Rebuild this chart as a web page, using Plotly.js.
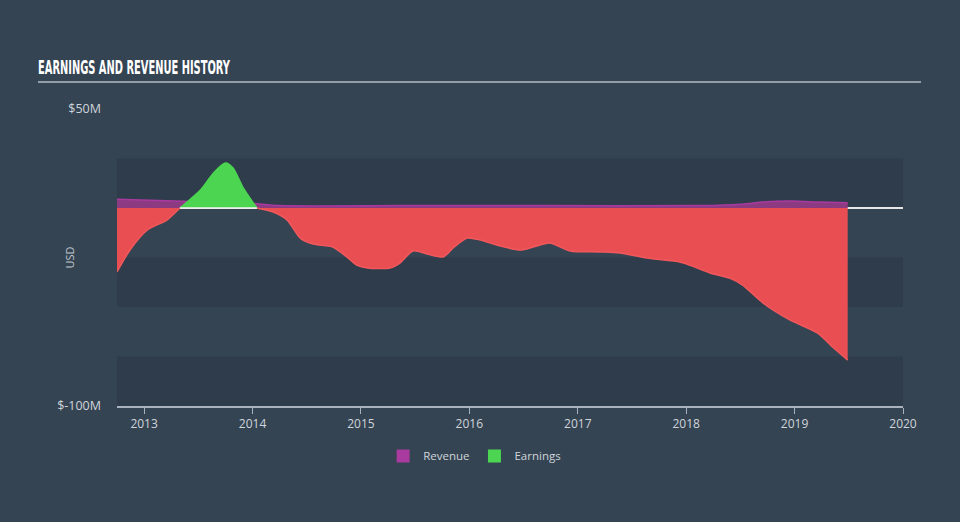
<!DOCTYPE html>
<html><head><meta charset="utf-8">
<script src="https://cdn.plot.ly/plotly-3.0.1.min.js"></script>
<style>html,body{margin:0;padding:0;background:#344453;}#chart{width:960px;height:522px;}</style>
</head><body><div id="chart"></div>
<script>
// Earnings (USD millions) by decimal year
const earnYears = [2012.75,2012.87,2013.03,2013.21,2013.33,2013.52,2013.64,2013.75,2013.82,2013.91,2014.04,2014.19,2014.32,2014.44,2014.56,2014.74,2014.87,2014.96,2015.06,2015.27,2015.36,2015.48,2015.61,2015.76,2015.85,2015.98,2016.10,2016.25,2016.47,2016.59,2016.74,2016.93,2017.20,2017.39,2017.64,2017.94,2018.03,2018.22,2018.40,2018.52,2018.71,2018.96,2019.21,2019.35,2019.49];
const earnValues = [-32.3,-21.2,-11.1,-6.1,0,9.1,17.7,22.7,20.2,10.6,0,-2.0,-6.1,-15.2,-18.2,-19.7,-24.7,-28.8,-30.3,-30.3,-27.8,-21.7,-23.2,-24.7,-20.2,-15.2,-16.2,-18.7,-21.2,-19.7,-17.7,-21.7,-22.2,-22.7,-25.3,-27.3,-28.8,-32.8,-35.4,-38.9,-48.0,-56.6,-63.1,-70.2,-76.8];
// Revenue (USD millions)
const revYears = [2012.75,2013.21,2013.67,2013.98,2014.25,2015.36,2016.74,2018.13,2018.50,2018.74,2018.98,2019.23,2019.49];
const revValues = [4.4,3.7,2.8,2.4,1.2,1.2,1.2,1.2,1.9,3.2,3.5,3.0,2.7];
const xTicks = [2013,2014,2015,2016,2017,2018,2019,2020];
const yTickVals = [50,-100];
const yTickText = ['$50M','$-100M'];

const negVals = earnValues.map(v => v <= 0 ? v : null);
const posVals = earnValues.map(v => v >= 0 ? v : null);
const zeroIdx = earnValues.map((v,i) => v === 0 ? i : -1).filter(i => i >= 0);

const traces = [
  {x: revYears, y: revValues, type:'scatter', mode:'lines', name:'Revenue', showlegend:false, fill:'tozeroy',
   fillcolor:'#8c3a82', line:{color:'#a93a9f', width:1.5, shape:'spline', smoothing:0.8}},
  {x: earnYears, y: negVals, type:'scatter', mode:'lines', name:'Earnings neg', showlegend:false, fill:'tozeroy',
   fillcolor:'#e94f52', line:{color:'#f2585b', width:1.5, shape:'spline', smoothing:0.7}, connectgaps:false},
  {x: earnYears, y: posVals, type:'scatter', mode:'lines', name:'Earnings', showlegend:false, fill:'tozeroy',
   fillcolor:'#4cd551', line:{color:'#4cd551', width:1.5, shape:'spline', smoothing:0.7}, connectgaps:false},
  {x:[null], y:[null], type:'scatter', mode:'markers', name:'Revenue', marker:{symbol:'square', size:13, color:'#a93a9f'}},
  {x:[null], y:[null], type:'scatter', mode:'markers', name:'Earnings', marker:{symbol:'square', size:13, color:'#4cd551'}}
];

const bandColor = '#2e3c4b';
const shapes = [
  {type:'rect', xref:'paper', x0:0, x1:1, yref:'y', y0:0, y1:25, fillcolor:bandColor, line:{width:0}, layer:'below'},
  {type:'rect', xref:'paper', x0:0, x1:1, yref:'y', y0:-25, y1:-50, fillcolor:bandColor, line:{width:0}, layer:'below'},
  {type:'rect', xref:'paper', x0:0, x1:1, yref:'y', y0:-75, y1:-100, fillcolor:bandColor, line:{width:0}, layer:'below'},
  {type:'line', xref:'paper', x0:-0.1005, x1:1.0229, yref:'paper', y0:1.0909, y1:1.0909, line:{color:'#b5bcc4', width:1.5}}
];
if (zeroIdx.length >= 2) {
  shapes.push({type:'line', xref:'x', x0:earnYears[zeroIdx[0]], x1:earnYears[zeroIdx[1]], yref:'y', y0:0, y1:0,
    line:{color:'#f0f0f0', width:1.5}, layer:'above'});
}

const layout = {
  width:960, height:522,
  paper_bgcolor:'#344453', plot_bgcolor:'rgba(0,0,0,0)',
  margin:{l:117, r:57, t:109, b:116},
  title:{text:'<b>EARNINGS AND REVENUE HISTORY</b>', xref:'container', yref:'container', x:38/960, xanchor:'left', y:1-67/522, yanchor:'middle',
    font:{family:'Liberation Sans Narrow, DejaVu Sans Condensed, sans-serif', size:19, color:'#ffffff'}},
  xaxis:{range:[2012.75,2020], tickvals:xTicks, ticktext:xTicks.map(String), showgrid:false, zeroline:false,
    showline:true, linecolor:'#aab3bd', linewidth:1.5, ticks:'outside', ticklen:6, tickcolor:'#aab3bd', tickwidth:1,
    tickfont:{family:'Open Sans, sans-serif', size:12, color:'#d0d5da'}, fixedrange:true},
  yaxis:{range:[-100,50], tickvals:yTickVals, ticktext:yTickText, showgrid:false, zeroline:true, zerolinecolor:'#e6e6e6', zerolinewidth:2,
    showline:false, ticks:'', ticklabelstandoff:15,
    tickfont:{family:'Open Sans, sans-serif', size:12.5, color:'#d0d5da'}, fixedrange:true},
  shapes: shapes,
  annotations:[{text:'USD', xref:'paper', yref:'paper', x:(60-117)/786, y:0.498, textangle:-90, showarrow:false,
    font:{family:'Open Sans, sans-serif', size:11, color:'#c0c6cc'}}],
  showlegend:true,
  legend:{orientation:'h', x:0.455, xanchor:'center', y:-0.168, yanchor:'middle', itemwidth:30, font:{family:'Open Sans, sans-serif', size:11.5, color:'#d0d5da'}, bgcolor:'rgba(0,0,0,0)', traceorder:'normal'}
};

Plotly.newPlot('chart', traces, layout, {displayModeBar:false, staticPlot:true}).then(function(){
  const t = document.querySelector('.gtitle');
  if (t) { t.setAttribute('textLength','192'); t.setAttribute('lengthAdjust','spacingAndGlyphs'); }
});
</script></body></html>
